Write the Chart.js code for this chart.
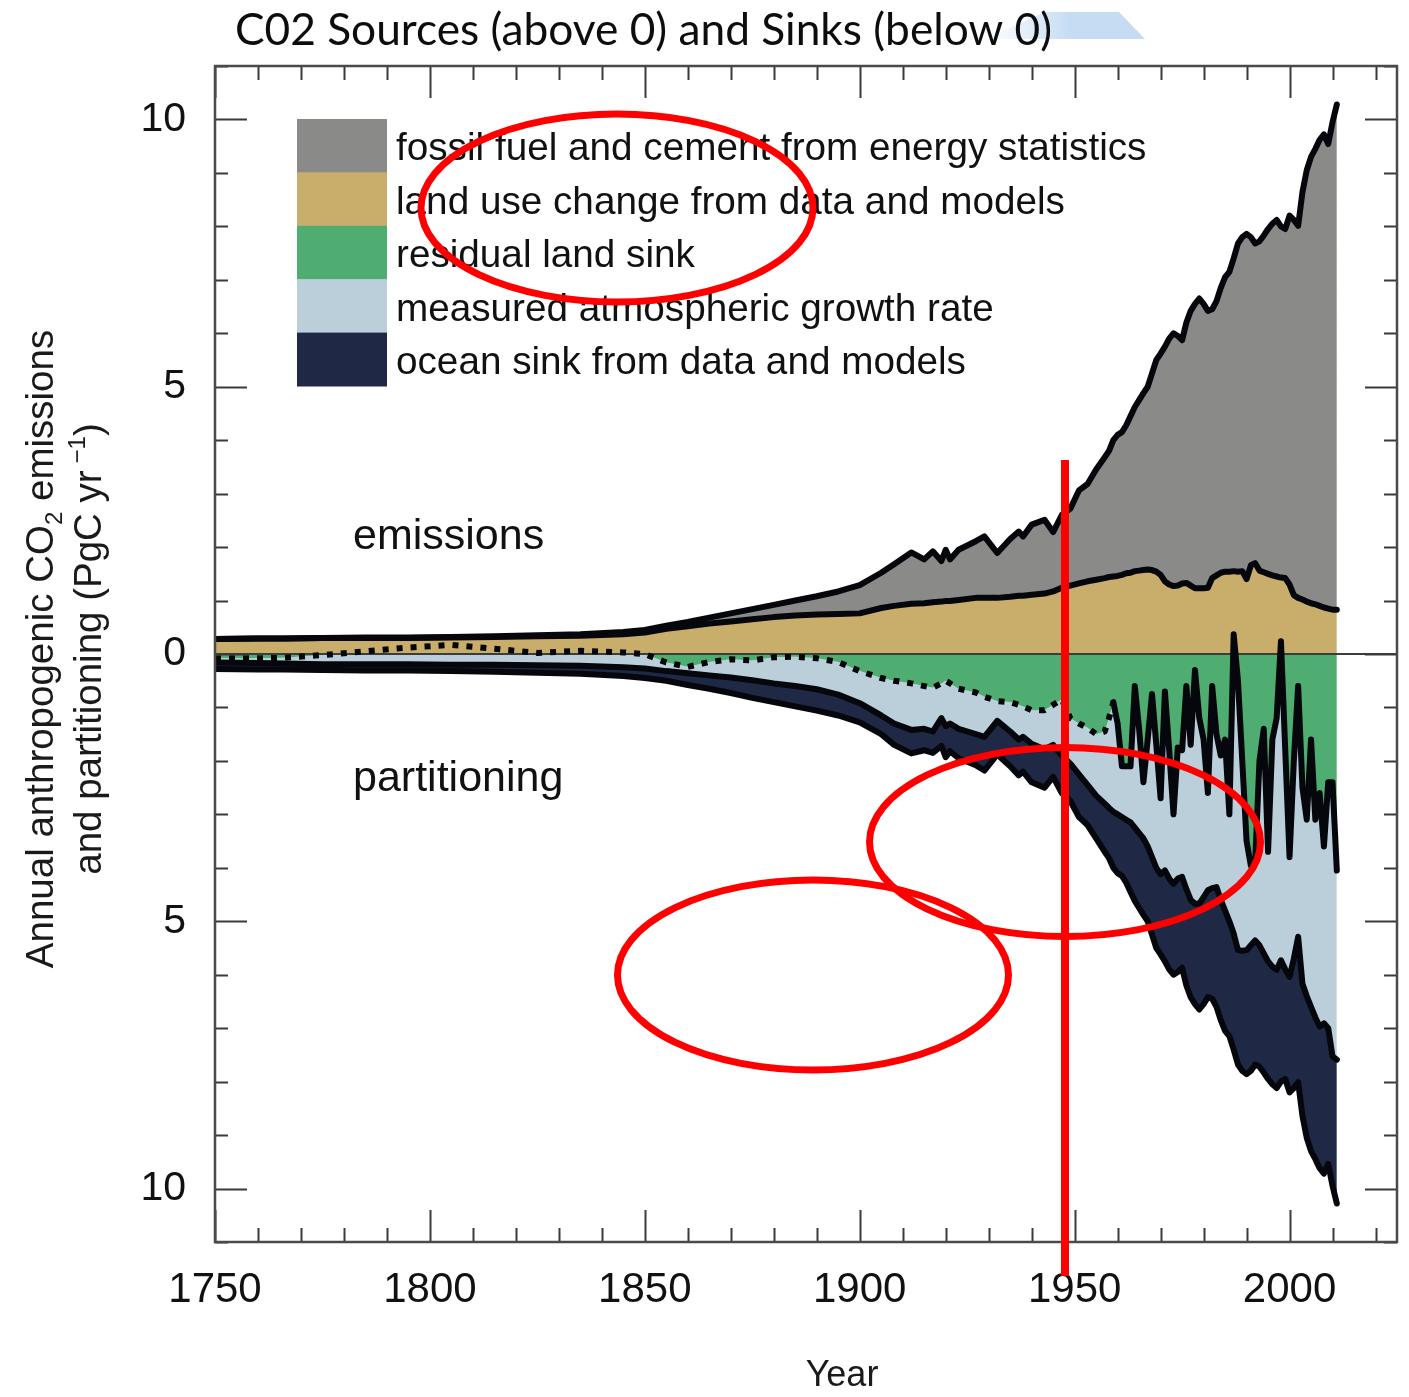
<!DOCTYPE html>
<html>
<head>
<meta charset="utf-8">
<title>CO2 sources and sinks</title>
<style>
  html, body { margin: 0; padding: 0; background: #ffffff; }
  #wrap { position: relative; width: 1409px; height: 1397px; }
  canvas { display: block; }
</style>
<script src="https://cdn.jsdelivr.net/npm/chart.js@4.4.1/dist/chart.umd.min.js"></script>
</head>
<body>
<div id="wrap"><canvas id="budget" width="1409" height="1397"></canvas></div>
<script>
// ---- annual anthropogenic CO2 budget, PgC per year ----
const years = [
  1750, 1760, 1766, 1775, 1785, 1795, 1805, 1815, 1825, 1835, 1845, 1850,
  1855, 1860, 1865, 1870, 1875, 1880, 1885, 1890, 1895, 1900, 1905, 1908,
  1912, 1915, 1917, 1919, 1920, 1921, 1923, 1927, 1929, 1932, 1935, 1937,
  1938, 1940, 1943, 1945, 1947, 1949, 1951, 1953, 1955, 1957, 1958,
  1959, 1960, 1961, 1962, 1963, 1964, 1965, 1966, 1967, 1968, 1969, 1970,
  1971, 1972, 1973, 1974, 1975, 1976, 1977, 1978, 1979, 1980,
  1981, 1982, 1983, 1984, 1985, 1986, 1987, 1988, 1989, 1990,
  1991, 1992, 1993, 1994, 1995, 1996, 1997, 1998, 1999, 2000,
  2001, 2002, 2003, 2004, 2005, 2006, 2007, 2008, 2009, 2010, 2011
];

// sources (plotted above zero)
const fossil = [
  0.00, 0.00, 0.00, 0.00, 0.01, 0.01, 0.01, 0.01, 0.02, 0.03, 0.04, 0.05,
  0.06, 0.08, 0.11, 0.15, 0.19, 0.23, 0.28, 0.34, 0.42, 0.53, 0.66, 0.78,
  0.96, 0.82, 0.95, 0.76, 0.96, 0.78, 0.94, 1.06, 1.15, 0.84, 1.08, 1.20,
  1.11, 1.31, 1.38, 1.11, 1.36, 1.44, 1.74, 1.82, 2.06, 2.26, 2.36,
  2.55, 2.64, 2.67, 2.77, 2.93, 3.07, 3.19, 3.31, 3.42, 3.68, 3.96, 4.14,
  4.39, 4.60, 4.73, 4.67, 4.55, 4.87, 5.14, 5.32, 5.42, 5.32,
  5.18, 5.03, 5.13, 5.33, 5.51, 5.61, 5.85, 6.14, 6.25, 6.46,
  6.14, 5.98, 6.16, 6.30, 6.45, 6.58, 6.67, 6.57, 6.53, 6.90,
  7.02, 6.96, 7.62, 8.07, 8.35, 8.52, 8.72, 8.85, 8.69, 9.12, 9.45
];
const landUse = [
  0.28, 0.29, 0.29, 0.30, 0.30, 0.30, 0.31, 0.32, 0.33, 0.34, 0.37, 0.40,
  0.47, 0.52, 0.57, 0.61, 0.65, 0.69, 0.72, 0.74, 0.75, 0.76, 0.86, 0.90,
  0.94, 0.95, 0.97, 0.98, 0.99, 0.99, 1.01, 1.05, 1.05, 1.05, 1.07, 1.09,
  1.09, 1.11, 1.13, 1.17, 1.24, 1.28, 1.32, 1.36, 1.39, 1.42, 1.44,
  1.45, 1.46, 1.48, 1.51, 1.52, 1.55, 1.56, 1.57, 1.58, 1.57, 1.54, 1.48,
  1.36, 1.30, 1.27, 1.28, 1.32, 1.33, 1.28, 1.23, 1.23, 1.23,
  1.24, 1.42, 1.47, 1.52, 1.54, 1.54, 1.55, 1.54, 1.55, 1.40,
  1.66, 1.70, 1.56, 1.53, 1.50, 1.47, 1.45, 1.43, 1.42, 1.30,
  1.10, 1.05, 1.02, 0.98, 0.95, 0.93, 0.90, 0.87, 0.85, 0.83, 0.83
];

// sinks (plotted below zero, land sink nearest the axis)
const landSink = [
  0.08, 0.08, 0.07, 0.02, -0.05, -0.12, -0.17, -0.10, -0.02, -0.06, -0.03, 0.00,
  0.16, 0.24, 0.15, 0.10, 0.12, 0.06, 0.05, 0.08, 0.15, 0.32, 0.45, 0.50,
  0.55, 0.60, 0.63, 0.55, 0.50, 0.55, 0.65, 0.72, 0.80, 0.88, 0.90, 0.95,
  0.98, 1.05, 1.05, 0.95, 0.85, 1.20, 1.30, 1.38, 1.50, 1.45, 1.20,
  0.90, 1.30, 2.10, 2.10, 2.10, 0.60, 1.40, 2.40, 1.60, 0.75, 1.70, 2.70,
  0.70, 1.80, 3.00, 1.75, 1.80, 0.60, 1.70, 0.30, 1.20, 1.60,
  2.60, 0.60, 1.50, 1.90, 1.60, 3.00, -0.37, 0.50, 2.00, 3.50,
  3.96, 3.90, 2.00, 1.40, 3.70, 1.60, 1.20, -0.24, 1.80, 3.80,
  2.00, 0.60, 2.50, 3.10, 1.60, 3.10, 2.60, 3.60, 2.40, 2.40, 4.05
];
const atmGrowth = [
  0.08, 0.09, 0.11, 0.17, 0.24, 0.31, 0.37, 0.30, 0.23, 0.28, 0.28, 0.27,
  0.16, 0.12, 0.25, 0.34, 0.37, 0.49, 0.55, 0.58, 0.61, 0.60, 0.70, 0.80,
  0.87, 0.80, 0.82, 0.65, 0.85, 0.75, 0.75, 0.78, 0.75, 0.37, 0.55, 0.65,
  0.57, 0.63, 0.73, 0.75, 1.05, 0.85, 0.95, 1.07, 1.15, 1.35, 1.68,
  2.05, 1.70, 0.95, 1.00, 1.05, 2.65, 1.95, 1.05, 2.00, 3.05, 2.30, 1.42,
  3.35, 2.40, 1.30, 2.45, 2.37, 3.80, 2.90, 4.37, 3.47, 2.95,
  1.82, 3.78, 2.86, 2.70, 3.20, 2.00, 5.60, 5.04, 3.55, 2.04,
  1.49, 1.46, 3.45, 4.20, 2.05, 4.25, 4.71, 5.97, 4.10, 2.24,
  3.70, 4.69, 3.67, 3.30, 5.00, 3.70, 4.37, 3.31, 4.60, 5.13, 3.54
];
const oceanSink = [
  0.12, 0.12, 0.11, 0.11, 0.12, 0.12, 0.12, 0.13, 0.14, 0.15, 0.16, 0.18,
  0.18, 0.22, 0.25, 0.29, 0.33, 0.35, 0.38, 0.40, 0.39, 0.36, 0.35, 0.40,
  0.44, 0.40, 0.40, 0.52, 0.58, 0.52, 0.55, 0.58, 0.63, 0.63, 0.65, 0.67,
  0.65, 0.72, 0.72, 0.60, 0.70, 0.70, 0.80, 0.75, 0.80, 0.90, 0.94,
  1.05, 1.10, 1.10, 1.18, 1.30, 1.37, 1.40, 1.43, 1.40, 1.45, 1.50, 1.50,
  1.70, 1.70, 1.70, 1.75, 1.70, 1.80, 1.82, 1.88, 1.98, 2.00,
  2.00, 2.07, 2.24, 2.25, 2.25, 2.15, 2.17, 2.14, 2.25, 2.32,
  2.35, 2.32, 2.27, 2.23, 2.20, 2.20, 2.21, 2.27, 2.05, 2.16,
  2.42, 2.72, 2.47, 2.65, 2.70, 2.65, 2.65, 2.81, 2.54, 2.42, 2.69
];

// first year of direct atmospheric measurements (solid line from here on)
const measuredFrom = 1959;

// axes
const xMajorTicks = [1750, 1800, 1850, 1900, 1950, 2000];
const yMajorTicks = [-10, -5, 0, 5, 10];
const yTickLabels = ['10', '5', '0', '5', '10'];

const seriesNames = [
  'fossil fuel and cement from energy statistics',
  'land use change from data and models',
  'residual land sink',
  'measured atmospheric growth rate',
  'ocean sink from data and models'
];
const seriesColors = ['#8a8b88', '#c9ad6b', '#50ad72', '#bbcfdb', '#1f2946'];

const chartTitle = 'C02 Sources (above 0) and Sinks (below 0)';
const yTitleLine1 = ['Annual anthropogenic CO', '2', ' emissions'];
const yTitleLine2 = ['and partitioning (PgC yr', '\u22121', ')'];
const xTitle = 'Year';
const upperNote = 'emissions';
const lowerNote = 'partitioning';

// ---- stacked boundaries (sources stacked upward, sinks downward) ----
const sourceTop = years.map((y, i) => landUse[i] + fossil[i]);
const landEdge = landSink.map(v => -v);
const atmEdge = landEdge.map((v, i) => v - atmGrowth[i]);
const oceanEdge = atmEdge.map((v, i) => v - oceanSink[i]);
const pts = arr => years.map((x, i) => ({ x: x, y: arr[i] }));

const SANS = "'Liberation Sans', Arial, Helvetica, sans-serif";
const LINE = '#06070c';

function boundary(label, data, fill, color, extra) {
  return Object.assign({
    label: label,
    data: data,
    fill: fill,
    backgroundColor: color,
    borderColor: LINE,
    borderWidth: 6,
    borderJoinStyle: 'round',
    borderCapStyle: 'round',
    pointRadius: 0,
    tension: 0
  }, extra || {});
}

const landPts = pts(landEdge);
const datasets = [
  boundary(seriesNames[0], pts(sourceTop), 1, seriesColors[0]),
  boundary(seriesNames[1], pts(landUse), 'origin', seriesColors[1]),
  // land sink area: its edge is stroked by the two outline datasets below
  boundary(seriesNames[2], landPts, 'origin', seriesColors[2], { borderWidth: 0 }),
  boundary(seriesNames[3], pts(atmEdge), 2, seriesColors[3]),
  boundary(seriesNames[4], pts(oceanEdge), 3, seriesColors[4]),
  // land sink edge: dotted before direct measurements, solid afterwards
  boundary('land sink edge (ice core era)', landPts.filter(p => p.x <= measuredFrom), false, 'transparent',
    { borderDash: [6, 8], borderCapStyle: 'butt', order: -1 }),
  boundary('land sink edge (measured era)', landPts.filter(p => p.x >= measuredFrom), false, 'transparent',
    { order: -1 })
];

// ---- drawing helpers ----
function richText(ctx, parts, cx, cy, size) {
  // parts: [normal, script, normal]; a leading minus marks a superscript, otherwise subscript
  const small = Math.round(size * 0.62);
  const sup = parts[1].charAt(0) === '\u2212';
  ctx.font = size + 'px ' + SANS;
  const w0 = ctx.measureText(parts[0]).width;
  const w2 = ctx.measureText(parts[2]).width;
  ctx.font = small + 'px ' + SANS;
  const w1 = ctx.measureText(parts[1]).width;
  const gap = sup ? size * 0.18 : 0;
  const total = w0 + gap + w1 + w2;
  ctx.save();
  ctx.translate(cx, cy);
  ctx.rotate(-Math.PI / 2);
  ctx.textBaseline = 'alphabetic';
  ctx.textAlign = 'left';
  const base = size * 0.35;
  let u = -total / 2;
  ctx.font = size + 'px ' + SANS;
  ctx.fillText(parts[0], u, base);
  u += w0 + gap;
  ctx.font = small + 'px ' + SANS;
  ctx.fillText(parts[1], u, sup ? base - size * 0.42 : base + size * 0.22);
  u += w1;
  ctx.font = size + 'px ' + SANS;
  ctx.fillText(parts[2], u, base);
  ctx.restore();
}

const decorations = {
  id: 'decorations',
  beforeDatasetsDraw(chart) {
    // zero line sits over the filled areas, under the boundary lines
    const ctx = chart.ctx, a = chart.chartArea, y0 = chart.scales.y.getPixelForValue(0);
    ctx.save();
    ctx.strokeStyle = '#3c3c3c';
    ctx.lineWidth = 2;
    ctx.beginPath();
    ctx.moveTo(a.left, y0);
    ctx.lineTo(a.right, y0);
    ctx.stroke();
    ctx.restore();
  },
  afterDatasetsDraw(chart) {
    const ctx = chart.ctx, a = chart.chartArea, xs = chart.scales.x, ys = chart.scales.y;
    ctx.save();
    // inward tick marks on all four sides
    ctx.strokeStyle = '#3a3a3a';
    ctx.lineWidth = 2;
    ctx.beginPath();
    for (let yr = 1750; yr <= 2025; yr += 10) {
      const px = Math.round(xs.getPixelForValue(yr)) + 0.5;
      const len = xMajorTicks.includes(yr) ? 32 : 14;
      ctx.moveTo(px, a.bottom); ctx.lineTo(px, a.bottom - len);
      ctx.moveTo(px, a.top); ctx.lineTo(px, a.top + len);
    }
    for (let v = -11; v <= 11; v += 1) {
      const py = Math.round(ys.getPixelForValue(v)) + 0.5;
      const len = yMajorTicks.includes(v) ? 32 : 13;
      ctx.moveTo(a.left, py); ctx.lineTo(a.left + len, py);
      ctx.moveTo(a.right, py); ctx.lineTo(a.right - len, py);
    }
    ctx.stroke();
    // frame
    ctx.strokeStyle = '#4a4a4a';
    ctx.lineWidth = 2.5;
    ctx.strokeRect(a.left, a.top, a.right - a.left, a.bottom - a.top);

    // legend inside the plot
    const lx = 297, ly = 119, bw = 90, bh = 53.4;
    ctx.font = '38.7px ' + SANS;
    ctx.textAlign = 'left';
    ctx.textBaseline = 'middle';
    seriesNames.forEach((name, i) => {
      ctx.fillStyle = seriesColors[i];
      ctx.fillRect(lx, ly + i * bh, bw, bh + 0.5);
      ctx.fillStyle = '#111111';
      ctx.fillText(name, 396, ly + i * bh + bh / 2 + 4);
    });

    // region notes
    ctx.font = '43px ' + SANS;
    ctx.fillStyle = '#111111';
    ctx.fillText(upperNote, 353, 537);
    ctx.fillText(lowerNote, 353, 779);
    ctx.restore();
  },
  afterDraw(chart) {
    const ctx = chart.ctx;
    ctx.save();
    // header
    const grad = ctx.createLinearGradient(985, 0, 1070, 0);
    grad.addColorStop(0, 'rgba(198, 220, 243, 0)');
    grad.addColorStop(1, 'rgba(198, 220, 243, 1)');
    ctx.fillStyle = grad;
    ctx.beginPath();
    ctx.moveTo(1045, 12); ctx.lineTo(1119, 12); ctx.lineTo(1145, 39); ctx.lineTo(985, 39);
    ctx.closePath();
    ctx.fill();

    ctx.font = "44px Lato, 'Open Sans', sans-serif";
    ctx.fillStyle = '#0d0d0d';
    ctx.textAlign = 'left';
    ctx.textBaseline = 'alphabetic';
    const tw = ctx.measureText(chartTitle).width;
    ctx.save();
    ctx.translate(235, 45);
    ctx.scale(817 / tw, 1);
    ctx.fillText(chartTitle, 0, 0);
    ctx.restore();

    // axis titles
    ctx.fillStyle = '#1a1a1a';
    richText(ctx, yTitleLine1, 40, 649, 38.5);
    richText(ctx, yTitleLine2, 88, 649, 38.5);
    ctx.font = '36px ' + SANS;
    ctx.textAlign = 'center';
    ctx.textBaseline = 'middle';
    ctx.fillText(xTitle, 842, 1376);

    // red mark-up
    ctx.strokeStyle = '#ff0000';
    ctx.lineWidth = 7;
    [[617, 208, 196, 94], [1065, 842, 195.5, 94.5], [813, 975, 195.5, 95]].forEach(e => {
      ctx.beginPath();
      ctx.ellipse(e[0], e[1], e[2], e[3], 0, 0, Math.PI * 2);
      ctx.stroke();
    });
    ctx.fillStyle = '#ff0000';
    ctx.fillRect(1061, 460, 8, 816);
    ctx.restore();
  }
};

new Chart(document.getElementById('budget'), {
  type: 'line',
  data: { datasets: datasets },
  options: {
    responsive: false,
    animation: false,
    devicePixelRatio: 1,
    layout: { padding: { top: 66, right: 12, bottom: 0, left: 0 } },
    plugins: {
      legend: { display: false },
      title: { display: false },
      tooltip: { enabled: false },
      filler: { drawTime: 'beforeDatasetsDraw', propagate: false }
    },
    scales: {
      x: {
        type: 'linear',
        min: 1750,
        max: 2025,
        grid: { display: false, drawTicks: false },
        border: { display: false },
        afterBuildTicks: s => { s.ticks = xMajorTicks.map(v => ({ value: v })); },
        afterFit: s => { s.height = 155; },
        ticks: {
          padding: 23,
          autoSkip: false,
          maxRotation: 0,
          color: '#111111',
          font: { family: SANS, size: 42 },
          callback: v => String(v)
        }
      },
      y: {
        type: 'linear',
        min: -11,
        max: 11,
        grid: { display: false, drawTicks: false },
        border: { display: false },
        afterBuildTicks: s => { s.ticks = yMajorTicks.map(v => ({ value: v })); },
        afterFit: s => { s.width = 215; },
        ticks: {
          padding: 29,
          autoSkip: false,
          color: '#111111',
          font: { family: SANS, size: 41 },
          callback: (v, i) => yTickLabels[i]
        }
      }
    }
  },
  plugins: [decorations]
});
</script>
</body>
</html>
